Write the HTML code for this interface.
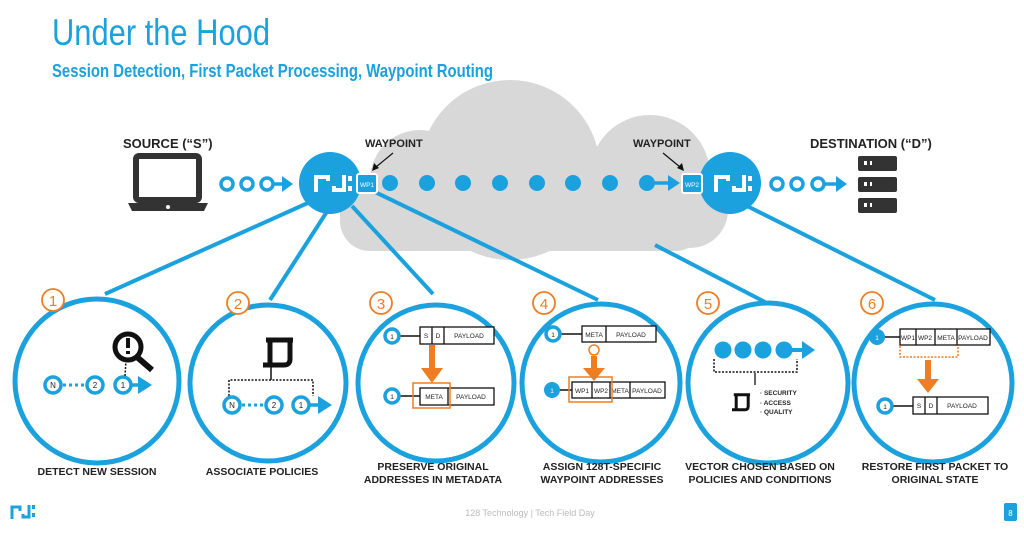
<!DOCTYPE html>
<html><head><meta charset="utf-8"><style>
html,body{margin:0;padding:0;background:#fff;width:1024px;height:533px;overflow:hidden}
svg{display:block}
text{font-family:"Liberation Sans",sans-serif}
</style></head><body>
<svg width="1024" height="533" viewBox="0 0 1024 533" xmlns="http://www.w3.org/2000/svg">
<defs>
<g id="pol" fill="none" stroke="#111" stroke-width="5"><path d="M3 3 H30"/><path d="M7 3 V27"/><path d="M27 3 V22 Q27 28 21 28 H0"/></g>
</defs>
<text x="52" y="45" font-size="37" fill="#1ba1dd" textLength="218" lengthAdjust="spacingAndGlyphs">Under the Hood</text>
<text x="52" y="77" font-size="18.5" font-weight="bold" fill="#1ba1dd" textLength="441" lengthAdjust="spacingAndGlyphs">Session Detection, First Packet Processing, Waypoint Routing</text>

<!-- cloud -->
<g fill="#d8d8d8">
<circle cx="510" cy="170" r="90"/>
<circle cx="420" cy="180" r="50"/>
<circle cx="650" cy="175" r="60"/>
<rect x="340" y="180" width="365" height="71" rx="30"/>
<circle cx="690" cy="210" r="38"/>
</g>

<!-- connector lines -->
<g stroke="#1ba1dd" stroke-width="4" fill="none">
<line x1="310" y1="202" x2="105" y2="294"/>
<line x1="328" y1="210" x2="270" y2="300"/>
<line x1="352" y1="206" x2="433" y2="294"/>
<line x1="375" y1="192" x2="598" y2="300"/>
<line x1="655" y1="245" x2="765" y2="302"/>
<line x1="745" y1="205" x2="935" y2="300"/>
</g>

<!-- bottom circles -->
<g stroke="#1ba1dd" stroke-width="5" fill="#fff">
<circle cx="97" cy="381" r="82"/>
<circle cx="268" cy="383" r="78"/>
<circle cx="436" cy="383" r="78"/>
<circle cx="601" cy="383" r="79"/>
<circle cx="768" cy="383" r="80"/>
<circle cx="933" cy="383" r="79"/>
</g>
<g stroke="#ef7d22" stroke-width="1.8" fill="#fff">
<circle cx="53" cy="300" r="11"/><circle cx="238" cy="303" r="11"/><circle cx="381" cy="303" r="11"/>
<circle cx="544" cy="303" r="11"/><circle cx="708" cy="303" r="11"/><circle cx="872" cy="303" r="11"/>
</g>
<g fill="#ef7d22" font-size="15" text-anchor="middle">
<text x="53" y="306">1</text><text x="238" y="309">2</text><text x="381" y="309">3</text>
<text x="544" y="309">4</text><text x="708" y="309">5</text><text x="872" y="309">6</text>
</g>

<!-- top row -->
<text x="123" y="148" font-size="13" font-weight="bold" fill="#222">SOURCE (“S”)</text>
<rect x="136" y="156" width="63" height="44" rx="3" fill="none" stroke="#333" stroke-width="6"/>
<path d="M128 203 H208 L204 211 H132 Z" fill="#333"/>
<circle cx="168" cy="207" r="2" fill="#fff"/>
<g fill="none" stroke="#1ba1dd" stroke-width="3.5">
<circle cx="227" cy="184" r="6"/><circle cx="247" cy="184" r="6"/><circle cx="267" cy="184" r="6"/>
<circle cx="777" cy="184" r="6"/><circle cx="797" cy="184" r="6"/><circle cx="818" cy="184" r="6"/>
<line x1="273" y1="184" x2="284" y2="184"/><line x1="824" y1="184" x2="838" y2="184"/>
<line x1="652" y1="183" x2="670" y2="183"/>
</g>
<path d="M282 176 L293 184 L282 192 Z M836 176 L847 184 L836 192 Z M668 175 L680 183 L668 191 Z" fill="#1ba1dd"/>

<circle cx="330" cy="183" r="31" fill="#1ba1dd"/>
<circle cx="730" cy="183" r="31" fill="#1ba1dd"/>
<g fill="none" stroke="#fff" stroke-width="4">
<path d="M316 192 V177 H328 V181"/><path d="M334 186 V190 H344 V175"/>
<path d="M716 192 V177 H728 V181"/><path d="M734 186 V190 H744 V175"/>
</g>
<rect x="348" y="176" width="4" height="5" fill="#fff"/><rect x="348" y="186" width="4" height="5" fill="#fff"/>
<rect x="748" y="176" width="4" height="5" fill="#fff"/><rect x="748" y="186" width="4" height="5" fill="#fff"/>
<rect x="357" y="174" width="20" height="19" rx="2" fill="#1ba1dd" stroke="#fff" stroke-width="2"/>
<rect x="682" y="174" width="20" height="19" rx="2" fill="#1ba1dd" stroke="#fff" stroke-width="2"/>
<text x="367" y="187" font-size="6.5" fill="#fff" text-anchor="middle">WP1</text>
<text x="692" y="187" font-size="6.5" fill="#fff" text-anchor="middle">WP2</text>
<g fill="#1ba1dd">
<circle cx="390" cy="183" r="8"/><circle cx="427" cy="183" r="8"/><circle cx="463" cy="183" r="8"/><circle cx="500" cy="183" r="8"/>
<circle cx="537" cy="183" r="8"/><circle cx="573" cy="183" r="8"/><circle cx="610" cy="183" r="8"/><circle cx="647" cy="183" r="8"/>
</g>
<text x="365" y="147" font-size="11" font-weight="bold" fill="#222">WAYPOINT</text>
<text x="633" y="147" font-size="11" font-weight="bold" fill="#222">WAYPOINT</text>
<g stroke="#111" stroke-width="1.2"><line x1="393" y1="153" x2="376" y2="167"/><line x1="663" y1="153" x2="680" y2="167"/></g>
<path d="M372 171 L374 163 L379 168 Z M684 171 L677 168 L682 163 Z" fill="#111"/>

<text x="810" y="148" font-size="13" font-weight="bold" fill="#222">DESTINATION (“D”)</text>
<g fill="#333"><rect x="858" y="156" width="39" height="15" rx="2"/><rect x="858" y="177" width="39" height="15" rx="2"/><rect x="858" y="198" width="39" height="15" rx="2"/></g>
<g fill="#fff"><rect x="864" y="161" width="3" height="4"/><rect x="870" y="161" width="2" height="4"/><rect x="864" y="182" width="3" height="4"/><rect x="870" y="182" width="2" height="4"/><rect x="864" y="203" width="3" height="4"/><rect x="870" y="203" width="2" height="4"/></g>

<!-- circle 1 content -->
<g fill="#fff" stroke="#1ba1dd" stroke-width="3.5">
<circle cx="53" cy="385" r="8"/><circle cx="95" cy="385" r="8"/><circle cx="123" cy="385" r="8"/>
</g>
<line x1="63" y1="385" x2="86" y2="385" stroke="#1ba1dd" stroke-width="3" stroke-dasharray="3 3"/>
<line x1="131" y1="385" x2="140" y2="385" stroke="#1ba1dd" stroke-width="3.5"/>
<path d="M138 376 L152 385 L138 394 Z" fill="#1ba1dd"/>
<g font-size="8" text-anchor="middle" fill="#222"><text x="53" y="388">N</text><text x="95" y="388">2</text><text x="123" y="388">1</text></g>
<line x1="125" y1="376" x2="126" y2="360" stroke="#111" stroke-width="1.5" stroke-dasharray="2 1.5"/>
<circle cx="128" cy="347" r="13" fill="#fff" stroke="#111" stroke-width="5"/>
<line x1="137" y1="357" x2="152" y2="370" stroke="#111" stroke-width="6"/>
<rect x="126" y="338" width="4" height="10" fill="#111"/><rect x="126" y="351" width="4" height="3" fill="#111"/>

<!-- circle 2 content -->
<use href="#pol" x="263" y="337"/>
<line x1="271" y1="367" x2="271" y2="380" stroke="#111" stroke-width="1.5"/>
<path d="M229 396 V380 H313 V396" fill="none" stroke="#111" stroke-width="1.5" stroke-dasharray="2 1.5"/>
<g fill="#fff" stroke="#1ba1dd" stroke-width="3.5">
<circle cx="232" cy="405" r="8"/><circle cx="274" cy="405" r="8"/><circle cx="301" cy="405" r="8"/>
</g>
<line x1="242" y1="405" x2="265" y2="405" stroke="#1ba1dd" stroke-width="3" stroke-dasharray="3 3"/>
<line x1="309" y1="405" x2="320" y2="405" stroke="#1ba1dd" stroke-width="3.5"/>
<path d="M318 396 L332 405 L318 414 Z" fill="#1ba1dd"/>
<g font-size="8" text-anchor="middle" fill="#222"><text x="232" y="408">N</text><text x="274" y="408">2</text><text x="301" y="408">1</text></g>

<!-- packet boxes -->
<g fill="#fff" stroke="#111" stroke-width="1.3">
<rect x="420" y="327" width="74" height="17"/><line x1="432" y1="327" x2="432" y2="344"/><line x1="444" y1="327" x2="444" y2="344"/>
<rect x="420" y="388" width="74" height="17"/><line x1="448" y1="388" x2="448" y2="405"/>
<rect x="582" y="326" width="74" height="16"/><line x1="606" y1="326" x2="606" y2="342"/>
<rect x="572" y="382" width="93" height="16"/><line x1="592" y1="382" x2="592" y2="398"/><line x1="610" y1="382" x2="610" y2="398"/><line x1="630" y1="382" x2="630" y2="398"/>
<rect x="900" y="329" width="90" height="16"/><line x1="916" y1="329" x2="916" y2="345"/><line x1="935" y1="329" x2="935" y2="345"/><line x1="957" y1="329" x2="957" y2="345"/>
<rect x="913" y="397" width="75" height="17"/><line x1="925" y1="397" x2="925" y2="414"/><line x1="937" y1="397" x2="937" y2="414"/>
</g>
<g stroke="#111" stroke-width="1.5">
<line x1="399" y1="336" x2="420" y2="336"/><line x1="399" y1="396" x2="420" y2="396"/>
<line x1="560" y1="334" x2="582" y2="334"/><line x1="560" y1="390" x2="572" y2="390"/>
<line x1="885" y1="337" x2="900" y2="337"/><line x1="892" y1="406" x2="913" y2="406"/>
</g>
<g fill="#fff" stroke="#1ba1dd" stroke-width="3.5">
<circle cx="392" cy="336" r="7"/><circle cx="392" cy="396" r="7"/><circle cx="553" cy="334" r="7"/><circle cx="885" cy="406" r="7"/>
</g>
<circle cx="552" cy="390" r="8" fill="#1ba1dd"/><circle cx="877" cy="337" r="8" fill="#1ba1dd"/>
<g font-size="6.5" fill="#222" text-anchor="middle">
<text x="392" y="339">1</text><text x="392" y="399">1</text><text x="553" y="337">1</text><text x="885" y="409">1</text>
<text x="426" y="338">S</text><text x="438" y="338">D</text><text x="469" y="338">PAYLOAD</text>
<text x="434" y="399">META</text><text x="471" y="399">PAYLOAD</text>
<text x="594" y="337">META</text><text x="631" y="337">PAYLOAD</text>
<text x="582" y="393">WP1</text><text x="601" y="393">WP2</text><text x="620" y="393">META</text><text x="647" y="393">PAYLOAD</text>
<text x="908" y="340">WP1</text><text x="925" y="340">WP2</text><text x="946" y="340">META</text><text x="973" y="340">PAYLOAD</text>
<text x="919" y="408">S</text><text x="931" y="408">D</text><text x="962" y="408">PAYLOAD</text>
</g>
<g fill="#fff" font-size="6.5" text-anchor="middle"><text x="552" y="393">1</text><text x="877" y="340">1</text></g>
<!-- orange arrows -->
<g fill="#ef7d22">
<rect x="429" y="345" width="6" height="24"/><path d="M421 368 H443 L432 383 Z"/>
<rect x="591" y="356" width="6" height="13"/><path d="M583 368 H605 L594 381 Z"/>
<rect x="925" y="360" width="6" height="20"/><path d="M917 379 H939 L928 393 Z"/>
</g>
<g fill="none" stroke="#ef7d22" stroke-width="1.5">
<rect x="413" y="383" width="37" height="25"/>
<rect x="569" y="377" width="43" height="25"/>
<circle cx="594" cy="350" r="5" fill="#fff"/>
<path d="M900 346 V357 H958 V346" stroke-dasharray="2 1.5"/>
</g>

<!-- circle 5 -->
<g fill="#1ba1dd"><circle cx="723" cy="350" r="8.5"/><circle cx="743" cy="350" r="8.5"/><circle cx="763" cy="350" r="8.5"/><circle cx="784" cy="350" r="8.5"/></g>
<line x1="790" y1="350" x2="805" y2="350" stroke="#1ba1dd" stroke-width="4"/>
<path d="M802 341 L815 350 L802 359 Z" fill="#1ba1dd"/>
<path d="M714 359 V372 H797 V359" fill="none" stroke="#111" stroke-width="1.5" stroke-dasharray="2 1.5"/>
<line x1="755" y1="373" x2="755" y2="385" stroke="#111" stroke-width="1.3"/>
<use href="#pol" transform="translate(732 393) scale(0.6)"/>
<g font-size="6.5" font-weight="bold" fill="#222"><text x="760" y="395">· SECURITY</text><text x="760" y="405">· ACCESS</text><text x="760" y="414">· QUALITY</text></g>

<!-- bottom labels -->
<g font-size="10.5" font-weight="bold" fill="#222" text-anchor="middle">
<text x="97" y="475">DETECT NEW SESSION</text>
<text x="262" y="475">ASSOCIATE POLICIES</text>
<text x="433" y="470">PRESERVE ORIGINAL</text><text x="433" y="483">ADDRESSES IN METADATA</text>
<text x="602" y="470">ASSIGN 128T-SPECIFIC</text><text x="602" y="483">WAYPOINT ADDRESSES</text>
<text x="760" y="470">VECTOR CHOSEN BASED ON</text><text x="760" y="483">POLICIES AND CONDITIONS</text>
<text x="935" y="470">RESTORE FIRST PACKET TO</text><text x="935" y="483">ORIGINAL STATE</text>
</g>

<!-- footer -->
<g fill="none" stroke="#1ba1dd" stroke-width="3">
<path d="M12 519 V507 H20 V511"/><path d="M23 514 V517 H29 V505"/>
</g>
<rect x="32" y="505" width="3" height="4" fill="#1ba1dd"/><rect x="32" y="513" width="3" height="4" fill="#1ba1dd"/>
<text x="530" y="516" font-size="9" fill="#bbb" text-anchor="middle">128 Technology | Tech Field Day</text>
<rect x="1004" y="503" width="13" height="18" rx="2" fill="#1ba1dd"/>
<text x="1010.5" y="516" font-size="8" fill="#fff" text-anchor="middle">8</text>
</svg>
</body></html>
